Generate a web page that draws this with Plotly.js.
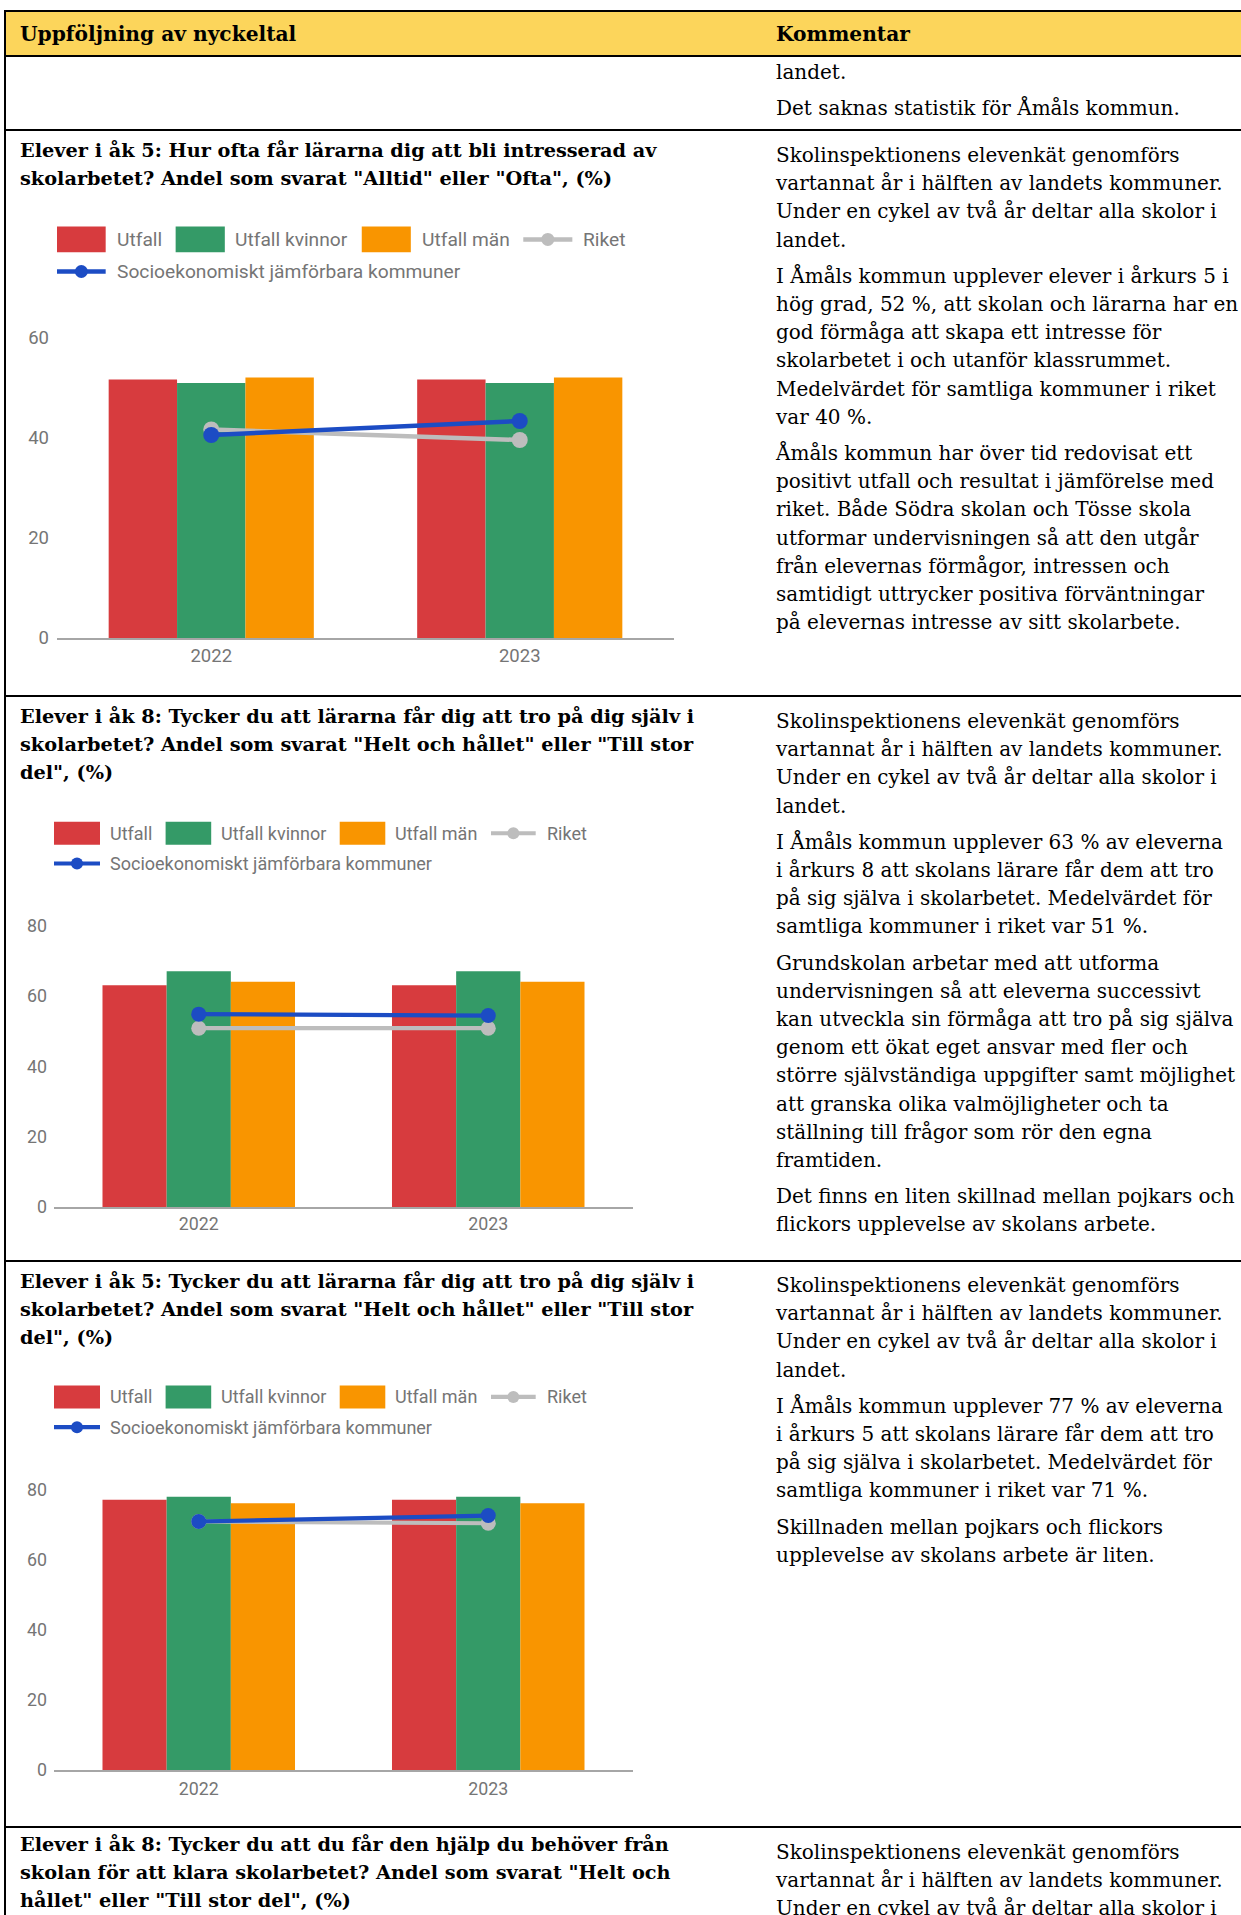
<!DOCTYPE html>
<html lang="sv">
<head>
<meta charset="utf-8">
<script src="https://cdn.plot.ly/plotly-3.0.1.min.js"></script>
<style>
  html, body { margin:0; padding:0; background:#fff; }
  body { width:1241px; height:1915px; position:relative; overflow:hidden; }
  .hline { position:absolute; left:4px; width:1237px; height:2px; background:#000; }
  .vline { position:absolute; top:10px; left:4px; width:2px; height:1905px; background:#000; }
  .hdr { position:absolute; left:6px; top:12px; width:1235px; height:43px; background:#fcd55b; }
  .ttl { position:absolute; left:20px; font-family:"DejaVu Serif", serif; font-weight:bold; font-size:19.3px; line-height:28px; white-space:nowrap; color:#000; }
  .head { font-size:20.2px; }
  .txt { position:absolute; left:776px; font-family:"DejaVu Serif", serif; font-size:20px; line-height:28.2px; white-space:nowrap; color:#000; }
  .txt p { margin:0 0 8px 0; }
  .chart { position:absolute; left:0; }
</style>
</head>
<body>
<div class="hdr"></div>
<div class="hline" style="top:10px"></div>
<div class="hline" style="top:55px"></div>
<div class="hline" style="top:129px"></div>
<div class="hline" style="top:695px"></div>
<div class="hline" style="top:1260px"></div>
<div class="hline" style="top:1826px"></div>
<div class="vline"></div>

<div class="ttl head" style="top:20px">Uppföljning av nyckeltal</div>
<div class="ttl head" style="top:20px; left:776px">Kommentar</div>

<div class="txt" style="top:58px"><p>landet.</p><p>Det saknas statistik för Åmåls kommun.</p></div>

<div class="ttl" style="top:136.5px">Elever i åk 5: Hur ofta får lärarna dig att bli intresserad av<br>skolarbetet? Andel som svarat "Alltid" eller "Ofta", (%)</div>
<div class="txt" style="top:141px">
<p>Skolinspektionens elevenkät genomförs<br>vartannat år i hälften av landets kommuner.<br>Under en cykel av två år deltar alla skolor i<br>landet.</p>
<p>I Åmåls kommun upplever elever i årkurs 5 i<br>hög grad, 52 %, att skolan och lärarna har en<br>god förmåga att skapa ett intresse för<br>skolarbetet i och utanför klassrummet.<br>Medelvärdet för samtliga kommuner i riket<br>var 40 %.</p>
<p>Åmåls kommun har över tid redovisat ett<br>positivt utfall och resultat i jämförelse med<br>riket. Både Södra skolan och Tösse skola<br>utformar undervisningen så att den utgår<br>från elevernas förmågor, intressen och<br>samtidigt uttrycker positiva förväntningar<br>på elevernas intresse av sitt skolarbete.</p>
</div>
<div id="chart1" class="chart"></div>

<div class="ttl" style="top:702.5px">Elever i åk 8: Tycker du att lärarna får dig att tro på dig själv i<br>skolarbetet? Andel som svarat "Helt och hållet" eller "Till stor<br>del", (%)</div>
<div class="txt" style="top:707px">
<p>Skolinspektionens elevenkät genomförs<br>vartannat år i hälften av landets kommuner.<br>Under en cykel av två år deltar alla skolor i<br>landet.</p>
<p>I Åmåls kommun upplever 63 % av eleverna<br>i årkurs 8 att skolans lärare får dem att tro<br>på sig själva i skolarbetet. Medelvärdet för<br>samtliga kommuner i riket var 51 %.</p>
<p>Grundskolan arbetar med att utforma<br>undervisningen så att eleverna successivt<br>kan utveckla sin förmåga att tro på sig själva<br>genom ett ökat eget ansvar med fler och<br>större självständiga uppgifter samt möjlighet<br>att granska olika valmöjligheter och ta<br>ställning till frågor som rör den egna<br>framtiden.</p>
<p>Det finns en liten skillnad mellan pojkars och<br>flickors upplevelse av skolans arbete.</p>
</div>
<div id="chart2" class="chart"></div>

<div class="ttl" style="top:1267.5px">Elever i åk 5: Tycker du att lärarna får dig att tro på dig själv i<br>skolarbetet? Andel som svarat "Helt och hållet" eller "Till stor<br>del", (%)</div>
<div class="txt" style="top:1271px">
<p>Skolinspektionens elevenkät genomförs<br>vartannat år i hälften av landets kommuner.<br>Under en cykel av två år deltar alla skolor i<br>landet.</p>
<p>I Åmåls kommun upplever 77 % av eleverna<br>i årkurs 5 att skolans lärare får dem att tro<br>på sig själva i skolarbetet. Medelvärdet för<br>samtliga kommuner i riket var 71 %.</p>
<p>Skillnaden mellan pojkars och flickors<br>upplevelse av skolans arbete är liten.</p>
</div>
<div id="chart3" class="chart"></div>

<div class="ttl" style="top:1831px">Elever i åk 8: Tycker du att du får den hjälp du behöver från<br>skolan för att klara skolarbetet? Andel som svarat "Helt och<br>hållet" eller "Till stor del", (%)</div>
<div class="txt" style="top:1838px">
<p>Skolinspektionens elevenkät genomförs<br>vartannat år i hälften av landets kommuner.<br>Under en cykel av två år deltar alla skolor i<br>landet.</p>
</div>

<script>
// ---------- DATA ----------
const years = ['2022', '2023'];
const seriesNames = ['Utfall', 'Utfall kvinnor', 'Utfall män', 'Riket', 'Socioekonomiskt jämförbara kommuner'];
const yTicks1 = [0, 20, 40, 60];
const yTicks23 = [0, 20, 40, 60, 80];

// Chart 1: Elever i åk 5 – intresserad av skolarbetet
const c1Utfall  = [51.7, 51.7];
const c1Kvinnor = [51.0, 51.0];
const c1Man     = [52.1, 52.1];
const c1Riket   = [41.7, 39.6];
const c1Socio   = [40.6, 43.4];

// Chart 2: Elever i åk 8 – tro på dig själv
const c2Utfall  = [63.1, 63.1];
const c2Kvinnor = [67.1, 67.1];
const c2Man     = [64.1, 64.1];
const c2Riket   = [50.9, 50.9];
const c2Socio   = [54.9, 54.5];

// Chart 3: Elever i åk 5 – tro på dig själv
const c3Utfall  = [77.2, 77.2];
const c3Kvinnor = [78.1, 78.1];
const c3Man     = [76.2, 76.2];
const c3Riket   = [71.0, 70.5];
const c3Socio   = [71.0, 72.7];

// ---------- STYLE ----------
const COLORS = ['#d73b3e', '#349a67', '#f99500', '#bdbdbd', '#1c4cc4'];
const GREYTXT = '#757575';

function buildChart(id, vals, ticks, g) {
  const div = document.getElementById(id);
  div.style.top = g.top + 'px';
  div.style.width = g.width + 'px';
  div.style.height = g.height + 'px';
  const pw = g.plotX1 - g.plotX0, ph = g.plotY1 - g.plotY0;
  const ml = g.plotX0, mr = g.width - g.plotX1;
  const mt = g.plotY0 - g.top, mb = g.top + g.height - g.plotY1;
  const xp = px => (px - ml) / pw;
  const yp = py => (g.plotY1 - py) / ph;

  const traces = [];
  for (let i = 0; i < 3; i++) {
    traces.push({ type: 'bar', name: seriesNames[i], x: years, y: vals[i],
      marker: { color: COLORS[i], line: { width: 0 } }, showlegend: false, hoverinfo: 'skip' });
  }
  for (let i = 3; i < 5; i++) {
    traces.push({ type: 'scatter', mode: 'lines+markers', name: seriesNames[i], x: years, y: vals[i],
      line: { color: COLORS[i], width: g.lw }, marker: { color: COLORS[i], size: g.ms },
      showlegend: false, hoverinfo: 'skip', cliponaxis: false });
  }

  // custom legend (Google-Charts style)
  const shapes = [], annotations = [];
  const L = g.leg;
  for (let i = 0; i < 3; i++) {
    shapes.push({ type: 'rect', xref: 'paper', yref: 'paper',
      x0: xp(L.sw[i][0]), x1: xp(L.sw[i][1]), y0: yp(L.row1 + L.swh / 2), y1: yp(L.row1 - L.swh / 2),
      fillcolor: COLORS[i], line: { width: 0 } });
  }
  const lineItems = [[3, L.riket, L.row1], [4, L.socio, L.row2]];
  lineItems.forEach(([ci, xr, ry]) => {
    shapes.push({ type: 'line', xref: 'paper', yref: 'paper', x0: xp(xr[0]), x1: xp(xr[1]), y0: yp(ry), y1: yp(ry),
      line: { color: COLORS[ci], width: L.llw } });
    shapes.push({ type: 'circle', xref: 'paper', yref: 'paper', xsizemode: 'pixel', ysizemode: 'pixel',
      xanchor: xp((xr[0] + xr[1]) / 2), yanchor: yp(ry), x0: -L.dot, x1: L.dot, y0: -L.dot, y1: L.dot,
      fillcolor: COLORS[ci], line: { width: 0 } });
  });
  const textPos = [[L.tx[0], L.row1], [L.tx[1], L.row1], [L.tx[2], L.row1], [L.tx[3], L.row1], [L.tx[4], L.row2]];
  textPos.forEach(([tx, ty], i) => {
    annotations.push({ xref: 'paper', yref: 'paper', x: xp(tx), y: yp(ty), xanchor: 'left', yanchor: 'middle',
      text: seriesNames[i], showarrow: false, font: { family: 'Roboto', size: L.fs, color: GREYTXT } });
  });

  const layout = {
    width: g.width, height: g.height,
    margin: { l: ml, r: mr, t: mt, b: mb, pad: 0 },
    paper_bgcolor: 'rgba(0,0,0,0)', plot_bgcolor: 'rgba(0,0,0,0)',
    barmode: 'group', bargap: 0.335, bargroupgap: 0,
    showlegend: false,
    xaxis: { type: 'category', showline: true, linecolor: '#a6a6a6', linewidth: 2, showgrid: false,
      zeroline: false, ticks: '', ticklabelstandoff: g.xstand,
      tickfont: { family: 'Roboto', size: g.tfs, color: GREYTXT } },
    yaxis: { range: [ticks[0], ticks[ticks.length - 1]], tickvals: ticks, ticktext: ticks.map(String),
      showgrid: false, zeroline: false, showline: false, ticks: '', ticklabelstandoff: g.ystand,
      tickfont: { family: 'Roboto', size: g.tfs, color: GREYTXT } },
    shapes: shapes, annotations: annotations
  };
  Plotly.newPlot(div, traces, layout, { staticPlot: true, displayModeBar: false });
}

buildChart('chart1', [c1Utfall, c1Kvinnor, c1Man, c1Riket, c1Socio], yTicks1, {
  top: 200, width: 720, height: 480, plotX0: 56.7, plotX1: 674, plotY0: 338, plotY1: 637.9,
  lw: 4.5, ms: 16, tfs: 18.5, xstand: 1.5, ystand: 7,
  leg: { row1: 239.5, row2: 271.5, swh: 25.7, sw: [[56.7, 105.4], [175.4, 224.6], [361.6, 410.7]],
         riket: [523.2, 572.3], socio: [56.7, 105.4],
         tx: [114.7, 233, 419.6, 581.3, 114.7], fs: 19.2, dot: 6.5, llw: 4.5 }
});
buildChart('chart2', [c2Utfall, c2Kvinnor, c2Man, c2Riket, c2Socio], yTicks23, {
  top: 795, width: 720, height: 445, plotX0: 54, plotX1: 633, plotY0: 925.7, plotY1: 1206.8,
  lw: 4.2, ms: 15, tfs: 17.8, xstand: 0.5, ystand: 6,
  leg: { row1: 832.9, row2: 863.2, swh: 23.2, sw: [[54, 100], [165.6, 211.2], [339.7, 385.3]],
         riket: [491, 535.7], socio: [54, 100],
         tx: [108, 219.2, 393.3, 544.6, 108], fs: 18.0, dot: 6, llw: 4.2 }
});
buildChart('chart3', [c3Utfall, c3Kvinnor, c3Man, c3Riket, c3Socio], yTicks23, {
  top: 1360, width: 720, height: 445, plotX0: 54, plotX1: 633, plotY0: 1489.6, plotY1: 1770.4,
  lw: 4.2, ms: 15, tfs: 17.8, xstand: 2, ystand: 6,
  leg: { row1: 1396.3, row2: 1426.6, swh: 23.2, sw: [[54, 100], [165.6, 211.2], [339.7, 385.3]],
         riket: [491, 535.7], socio: [54, 100],
         tx: [108, 219.2, 393.3, 544.6, 108], fs: 18.0, dot: 6, llw: 4.2 }
});
</script>
</body>
</html>
